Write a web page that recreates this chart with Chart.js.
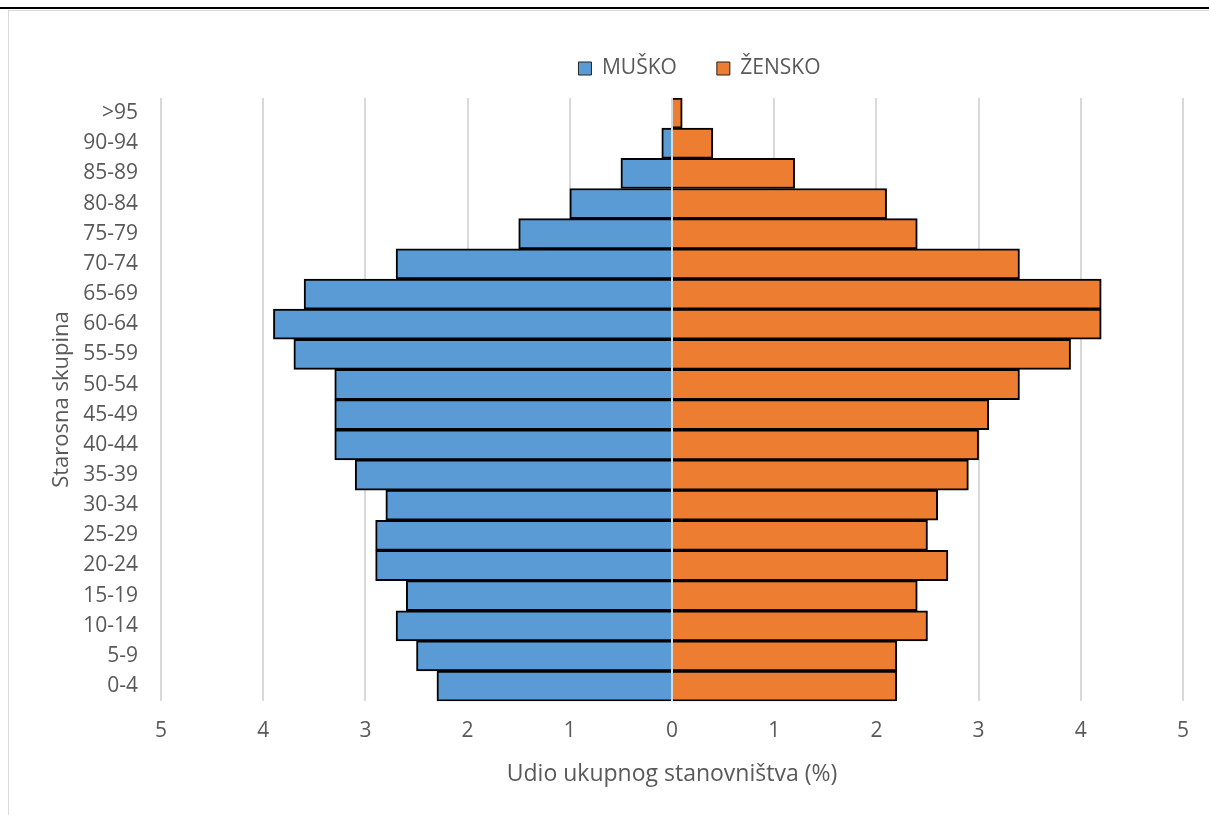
<!DOCTYPE html>
<html>
<head>
<meta charset="utf-8">
<script src="https://cdn.jsdelivr.net/npm/chart.js@4.4.1/dist/chart.umd.min.js"></script>
<style>
  body { margin: 0; background: #fff; width: 1209px; height: 815px; overflow: hidden; position: relative; }
  #topline { position: absolute; left: 0; top: 7px; width: 1209px; height: 2px; background: #000; }
  #frame { position: absolute; left: 8px; top: 10px; width: 1220px; height: 820px; border: 1px solid #d9d9d9; box-sizing: border-box; }
  #wrap { position: absolute; left: 10px; top: 11px; width: 1199px; height: 804px; }
</style>
</head>
<body>
<div id="topline"></div>
<div id="frame"></div>
<div id="wrap"><canvas id="pyramid"></canvas></div>
<script>
// dobne skupine, od najstarije (gore) prema najmlađoj (dolje)
var ageGroups = ['>95', '90-94', '85-89', '80-84', '75-79', '70-74', '65-69', '60-64', '55-59', '50-54',
                 '45-49', '40-44', '35-39', '30-34', '25-29', '20-24', '15-19', '10-14', '5-9', '0-4'];
// udio ukupnog stanovništva (%)
var male   = [0.0, 0.1, 0.5, 1.0, 1.5, 2.7, 3.6, 3.9, 3.7, 3.3, 3.3, 3.3, 3.1, 2.8, 2.9, 2.9, 2.6, 2.7, 2.5, 2.3];
var female = [0.1, 0.4, 1.2, 2.1, 2.4, 3.4, 4.2, 4.2, 3.9, 3.4, 3.1, 3.0, 2.9, 2.6, 2.5, 2.7, 2.4, 2.5, 2.2, 2.2];

var textColor = '#595959';
var fontFamily = '"Open Sans", sans-serif';

// svijetla okomita linija na nuli, iznad stupaca
var zeroLine = {
  id: 'zeroLine',
  afterDatasetsDraw: function(chart) {
    var x = chart.scales.x.getPixelForValue(0);
    var ctx = chart.ctx;
    ctx.save();
    ctx.strokeStyle = '#d9d9d9';
    ctx.lineWidth = 2;
    ctx.beginPath();
    ctx.moveTo(x, chart.chartArea.top);
    ctx.lineTo(x, chart.chartArea.bottom);
    ctx.stroke();
    ctx.restore();
  }
};

// legenda: fiksna visina i pomak udesno kao u originalu
var legendPlace = {
  id: 'legendPlace',
  afterInit: function(chart) {
    var fit = chart.legend.fit;
    chart.legend.fit = function() {
      fit.call(this);
      this.height = 80;
    };
  },
  afterLayout: function(chart) {
    chart.legend.left += 88;
    chart.legend.right += 88;
  }
};

var ctx = document.getElementById('pyramid');
new Chart(ctx, {
  type: 'bar',
  data: {
    labels: ageGroups,
    datasets: [
      {
        label: 'MUŠKO',
        data: male.map(function(v) { return -v; }),
        backgroundColor: '#5b9bd5',
        borderColor: '#000',
        borderWidth: 2,
        borderSkipped: 'start'
      },
      {
        label: 'ŽENSKO',
        data: female,
        backgroundColor: '#ed7d31',
        borderColor: '#000',
        borderWidth: 2,
        borderSkipped: 'start'
      }
    ]
  },
  options: {
    indexAxis: 'y',
    responsive: true,
    maintainAspectRatio: false,
    animation: false,
    datasets: { bar: { barPercentage: 1, categoryPercentage: 1 } },
    layout: { padding: { left: 30, right: 26, top: 7, bottom: 27 } },
    plugins: {
      tooltip: { enabled: false },
      legend: {
        position: 'top',
        labels: {
          color: textColor,
          font: { family: fontFamily, size: 21 },
          boxWidth: 13,
          boxHeight: 13,
          padding: 40,
          generateLabels: function(chart) {
            var items = Chart.defaults.plugins.legend.labels.generateLabels(chart);
            items.forEach(function(it) { it.lineWidth = 1; it.strokeStyle = '#222'; });
            return items;
          }
        }
      }
    },
    scales: {
      x: {
        stacked: true,
        min: -5,
        max: 5,
        border: { display: false },
        grid: { color: '#d9d9d9', lineWidth: 2, drawTicks: false },
        ticks: {
          stepSize: 1,
          padding: 17,
          color: textColor,
          font: { family: fontFamily, size: 21 },
          callback: function(v) { return Math.abs(v); }
        },
        title: {
          display: true,
          text: 'Udio ukupnog stanovništva (%)',
          color: textColor,
          font: { family: fontFamily, size: 23 },
          padding: { top: 0, bottom: 0 }
        }
      },
      y: {
        stacked: true,
        border: { display: false },
        grid: { display: false, drawTicks: false },
        ticks: {
          padding: 23,
          color: textColor,
          font: { family: fontFamily, size: 21 }
        },
        title: {
          display: true,
          text: 'Starosna skupina',
          color: textColor,
          font: { family: fontFamily, size: 22 },
          padding: { top: 9, bottom: 0 }
        },
        afterFit: function(scale) { scale.width = 121; }
      }
    }
  },
  plugins: [zeroLine, legendPlace]
});
</script>
</body>
</html>
